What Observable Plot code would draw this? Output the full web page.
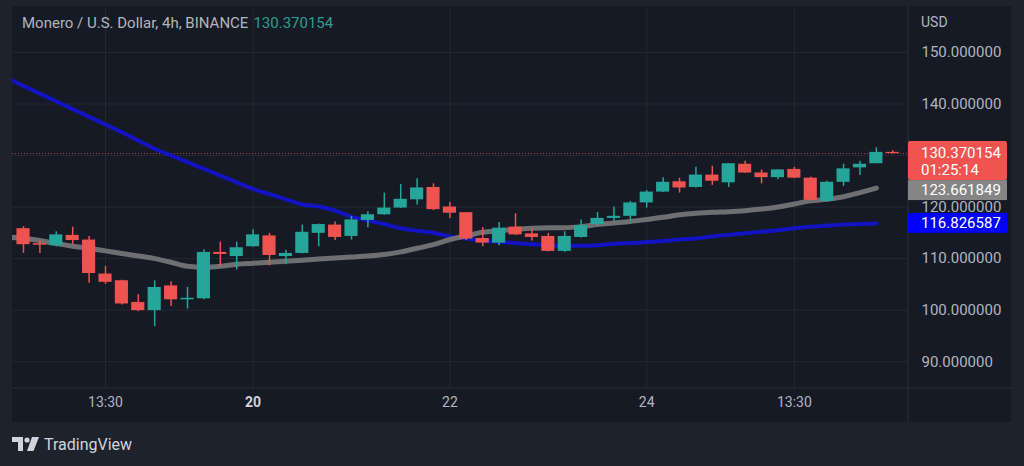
<!DOCTYPE html>
<html><head><meta charset="utf-8">
<script src="https://cdn.jsdelivr.net/npm/d3@7"></script>
<script src="https://cdn.jsdelivr.net/npm/@observablehq/plot@0.6"></script>
<style>
html,body{margin:0;padding:0;background:#1e222d;width:1024px;height:466px;overflow:hidden;font-family:Roboto,"Noto Sans",sans-serif;}
#wrap{position:relative;width:1024px;height:466px;}
#panel{position:absolute;left:12px;top:6px;width:999px;height:416px;background:#161a25;}
#chart{position:absolute;left:0;top:0;}
#title{position:absolute;left:22px;top:14px;font-size:15px;color:#b2b5be;white-space:nowrap;}
#title .v{color:#2e9e90;margin-left:5px;}
#footer{position:absolute;left:12px;top:434px;height:20px;display:flex;align-items:center;color:#d1d4dc;font-size:16px;}
#footer svg{margin-right:4px;}
</style>
</head><body>
<div id="wrap">
  <div id="panel"></div>
  <div id="chart"></div>
  <div id="title">Monero / U.S. Dollar, 4h, BINANCE<span class="v">130.370154</span></div>
  <div id="footer"><svg width="28" height="14" viewBox="0 0 28 14"><path d="M0 0h11v14H6V5H0z" fill="#d1d4dc"/><circle cx="15" cy="3" r="2.6" fill="#d1d4dc"/><path d="M20 0h7l-5.5 14h-6.5z" fill="#d1d4dc"/></svg>TradingView</div>
</div>
<script>
// ---- data (4h candles, index 0..53) ----
const open  = [115.8,112.9,112.5,114.5,113.6,107.0,105.7,101.5,99.9,104.7,102.0,102.2,111.2,110.4,112.3,114.4,110.4,111.0,114.9,116.5,114.3,117.4,118.5,119.8,121.4,123.8,120.0,118.9,113.9,113.0,116.1,114.8,114.3,111.4,114.1,116.6,117.8,118.2,120.8,122.9,124.9,123.8,126.2,124.7,128.3,126.6,125.7,127.3,125.6,121.1,124.8,127.6,128.4,130.6];
const high  = [116.2,113.5,115.2,116.1,114.3,108.5,105.8,103.0,105.7,105.5,104.4,111.7,113.2,113.2,115.6,114.9,111.6,116.5,116.7,117.1,118.2,119.1,122.7,124.4,125.5,124.5,120.9,118.9,116.0,117.0,118.7,115.8,114.9,115.2,117.5,118.9,120.0,121.1,123.2,125.7,125.6,127.7,127.9,128.4,128.9,127.2,127.3,127.7,125.8,125.0,128.3,128.9,131.5,130.9];
const low   = [111.0,111.0,112.3,112.7,105.2,105.0,101.0,99.7,96.8,100.7,100.2,102.0,108.3,107.8,112.2,108.6,108.8,110.9,112.3,113.5,113.6,116.0,118.4,119.7,120.4,119.3,117.8,113.5,112.3,112.5,114.5,113.4,111.3,111.2,114.0,116.3,117.1,117.1,119.8,122.8,122.7,123.7,124.2,123.8,126.5,124.5,125.3,125.5,121.2,121.0,124.0,126.1,128.4,130.3];
const close = [112.7,112.6,114.6,113.5,107.1,105.4,101.2,99.9,104.4,102.0,102.3,111.2,110.8,112.1,114.6,110.6,111.0,115.1,116.6,114.1,117.5,118.5,119.8,121.5,123.7,119.5,118.8,113.8,113.0,115.9,114.6,114.1,111.4,114.3,116.4,117.8,118.2,120.8,122.9,124.8,123.7,126.2,125.0,128.4,126.6,125.7,127.2,125.6,121.3,124.8,127.4,128.3,130.6,130.37];
// moving averages, index -1..52
const maGray = [114.2,113.9,113.5,112.9,112.4,112.0,111.5,111.0,110.5,110.0,109.3,108.5,108.3,108.5,108.9,109.1,109.3,109.5,109.7,109.9,110.1,110.3,110.5,110.8,111.3,112.0,112.7,113.7,114.4,115.1,115.4,115.7,115.9,116.0,116.0,116.2,116.6,116.9,117.2,117.6,118.0,118.5,118.8,119.0,119.1,119.3,119.6,120.0,120.6,121.2,121.5,122.0,122.8,123.66];
const maBlue = [145.0,143.5,142.0,140.5,139.0,137.5,136.0,134.5,132.9,131.3,130.0,128.7,127.4,126.1,124.8,123.5,122.5,121.5,120.5,120.1,119.3,118.1,117.4,116.7,115.9,115.4,115.0,114.3,113.9,113.5,113.2,113.0,112.8,112.6,112.5,112.5,112.6,112.9,113.0,113.2,113.4,113.7,113.9,114.3,114.6,114.9,115.2,115.5,115.9,116.2,116.4,116.6,116.7,116.83];
const yTicks = [90,100,110,120,140,150];
const gridYTicks = [90,100,110,120,130,140,150];
const xTickPos = [5,14,26,38,47];
const xTickLabels = ["13:30","20","22","24","13:30"];
const lastPrice = 130.370154, grayLast = 123.661849, blueLast = 116.826587;
const priceLabel = "130.370154", countdown = "01:25:14", grayLabel = "123.661849", blueLabel = "116.826587";

const UP = "#26a69a", DOWN = "#ef5350";
const candles = open.map((o,i)=>({i, o, h:high[i], l:low[i], c:close[i]}));
const maIdx = maGray.map((_,k)=>k-1);
const grayPts = maGray.map((v,k)=>({i:maIdx[k], v}));
const bluePts = maBlue.map((v,k)=>({i:maIdx[k], v}));
const xt = xTickPos.map((p,k)=>({p, t:xTickLabels[k], b: xTickLabels[k]==="20"}));

const plot = Plot.plot({
  width: 1024, height: 466,
  marginLeft: 12, marginRight: 116, marginTop: 6, marginBottom: 78,
  style: {background:"transparent", color:"#b2b5be", fontFamily:"Roboto, 'Noto Sans', sans-serif", fontSize:"15px"},
  x: {type:"linear", domain:[-0.67, 53.96], axis:null},
  y: {domain:[84.8, 158.9], axis:null},
  marks: [
    Plot.ruleY(gridYTicks, {stroke:"#2a2e39", strokeOpacity:0.7}),
    Plot.ruleX(xTickPos, {stroke:"#2a2e39", strokeOpacity:0.7}),
    Plot.ruleY([lastPrice], {stroke:DOWN, strokeOpacity:0.75, strokeDasharray:"1,2"}),
    Plot.line(bluePts, {x:"i", y:"v", stroke:"#1313c4", strokeWidth:4, curve:"monotone-x", clip:true}),
    Plot.line(grayPts, {x:"i", y:"v", stroke:"#6f6f72", strokeWidth:5, curve:"monotone-x", clip:true}),
    Plot.ruleX(candles, {x:"i", y1:"l", y2:"h", stroke:d=>d.c>=d.o?UP:DOWN, strokeWidth:1.5}),
    Plot.rect(candles, {x1:d=>d.i-0.4, x2:d=>d.i+0.4, y1:"o", y2:"c", fill:d=>d.c>=d.o?UP:DOWN}),
    Plot.text(yTicks, {y:d=>d, text:d=>d.toFixed(6), frameAnchor:"right", dx:13, textAnchor:"start", fill:"#b2b5be", fontSize:15}),
    Plot.text(xt, {filter:d=>!d.b, x:"p", text:"t", frameAnchor:"bottom", dy:18, fill:"#b2b5be", fontSize:14}),
    Plot.text(xt, {filter:d=>d.b, x:"p", text:"t", frameAnchor:"bottom", dy:18, fill:"#d1d4dc", fontSize:14, fontWeight:"bold"})
  ]
});
document.getElementById("chart").appendChild(plot);

// overlay: separators, currency, price labels (positioned via Plot scales)
const ys = plot.scale("y"), xs = plot.scale("x");
const right = xs.apply(53.96), bottom = ys.apply(84.8);
const svg = d3.select(plot);
const g = svg.append("g").attr("text-anchor","start");
g.append("line").attr("x1",right).attr("x2",right).attr("y1",6).attr("y2",422).attr("stroke","#2a2e39");
g.append("line").attr("x1",12).attr("x2",1011).attr("y1",bottom).attr("y2",bottom).attr("stroke","#2a2e39");
g.append("text").attr("x",921).attr("y",22).attr("dy","0.35em").attr("fill","#b2b5be").attr("font-size",14).text("USD");

const bx = right, bw = 99, tx = 921;
const yP = ys.apply(lastPrice);
const redTop = yP - 12, redBot = yP + 27;
g.append("rect").attr("x",bx).attr("y",redTop).attr("width",bw).attr("height",redBot-redTop).attr("rx",2).attr("fill","#f05350");
g.append("text").attr("x",tx).attr("y",yP).attr("dy","0.35em").attr("fill","#ffffff").attr("font-size",15).text(priceLabel);
g.append("text").attr("x",tx).attr("y",yP+17).attr("dy","0.35em").attr("fill","#ffffff").attr("font-size",15).text(countdown);
const grayTop = Math.max(redBot, ys.apply(grayLast)-10);
g.append("rect").attr("x",bx).attr("y",grayTop).attr("width",bw).attr("height",20).attr("fill","#858585");
g.append("text").attr("x",tx).attr("y",grayTop+10).attr("dy","0.35em").attr("fill","#ffffff").attr("font-size",15).text(grayLabel);
const yB = ys.apply(blueLast);
g.append("rect").attr("x",bx).attr("y",yB-10).attr("width",bw).attr("height",20).attr("fill","#0000ff");
g.append("text").attr("x",tx).attr("y",yB).attr("dy","0.35em").attr("fill","#ffffff").attr("font-size",15).text(blueLabel);
</script>
</body></html>
